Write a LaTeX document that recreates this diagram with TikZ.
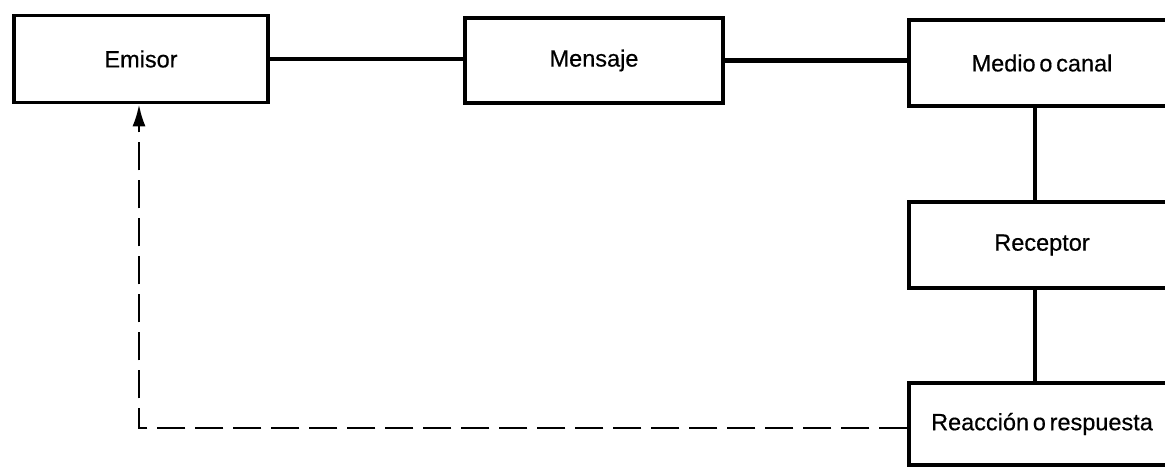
\documentclass[tikz,border=0pt]{standalone}
\usepackage{fontspec}
\setmainfont{Liberation Sans}
\usetikzlibrary{arrows.meta}
\newcommand\tightwords{\spaceskip=0.16em plus 0.05em\relax}
\begin{document}
\begin{tikzpicture}[x=1pt,y=-1pt,
  box/.style={draw, line width=3.5pt, inner sep=0pt, anchor=center,
    font=\fontsize{23.5}{28}\selectfont\addfontfeature{FakeBold=0.5},
    execute at begin node=\tightwords},
  link/.style={line width=4.5pt},
  drop/.style={line width=3.2pt},
  feedback/.style={line width=2.8pt, dash pattern=on 28pt off 10pt,
    -{Latex[length=22pt,width=13pt]}}]
  \useasboundingbox (0,0) rectangle (1165,472);
  \clip (0,0) rectangle (1165,472);
  % top row
  \node[box, minimum width=254pt, minimum height=87pt] (emisor) at (141,59) {Emisor};
  \node[box, minimum width=258pt, minimum height=85pt] (mensaje) at (594,60.5) {Mensaje};
  \node[box, minimum width=266pt, minimum height=86pt] (medio) at (1042,63) {Medio o canal};
  % right column
  \node[box, minimum width=266pt, minimum height=86pt] (receptor) at (1042,245) {Receptor};
  \node[box, minimum width=266pt, minimum height=82pt] (reaccion) at (1042,424) {Reacción o respuesta};
  % solid connectors
  \draw[link] (emisor.east) -- (mensaje.west |- emisor.east);
  \draw[link] (mensaje.east) -- (medio.west |- mensaje.east);
  \draw[drop] ([xshift=-7pt]medio.south) -- ([xshift=-7pt]receptor.north);
  \draw[drop] ([xshift=-7pt]receptor.south) -- ([xshift=-7pt]reaccion.north);
  % dashed feedback
  \draw[feedback] ([yshift=-4pt]reaccion.west) -| ([xshift=-2pt]emisor.south);
\end{tikzpicture}
\end{document}
